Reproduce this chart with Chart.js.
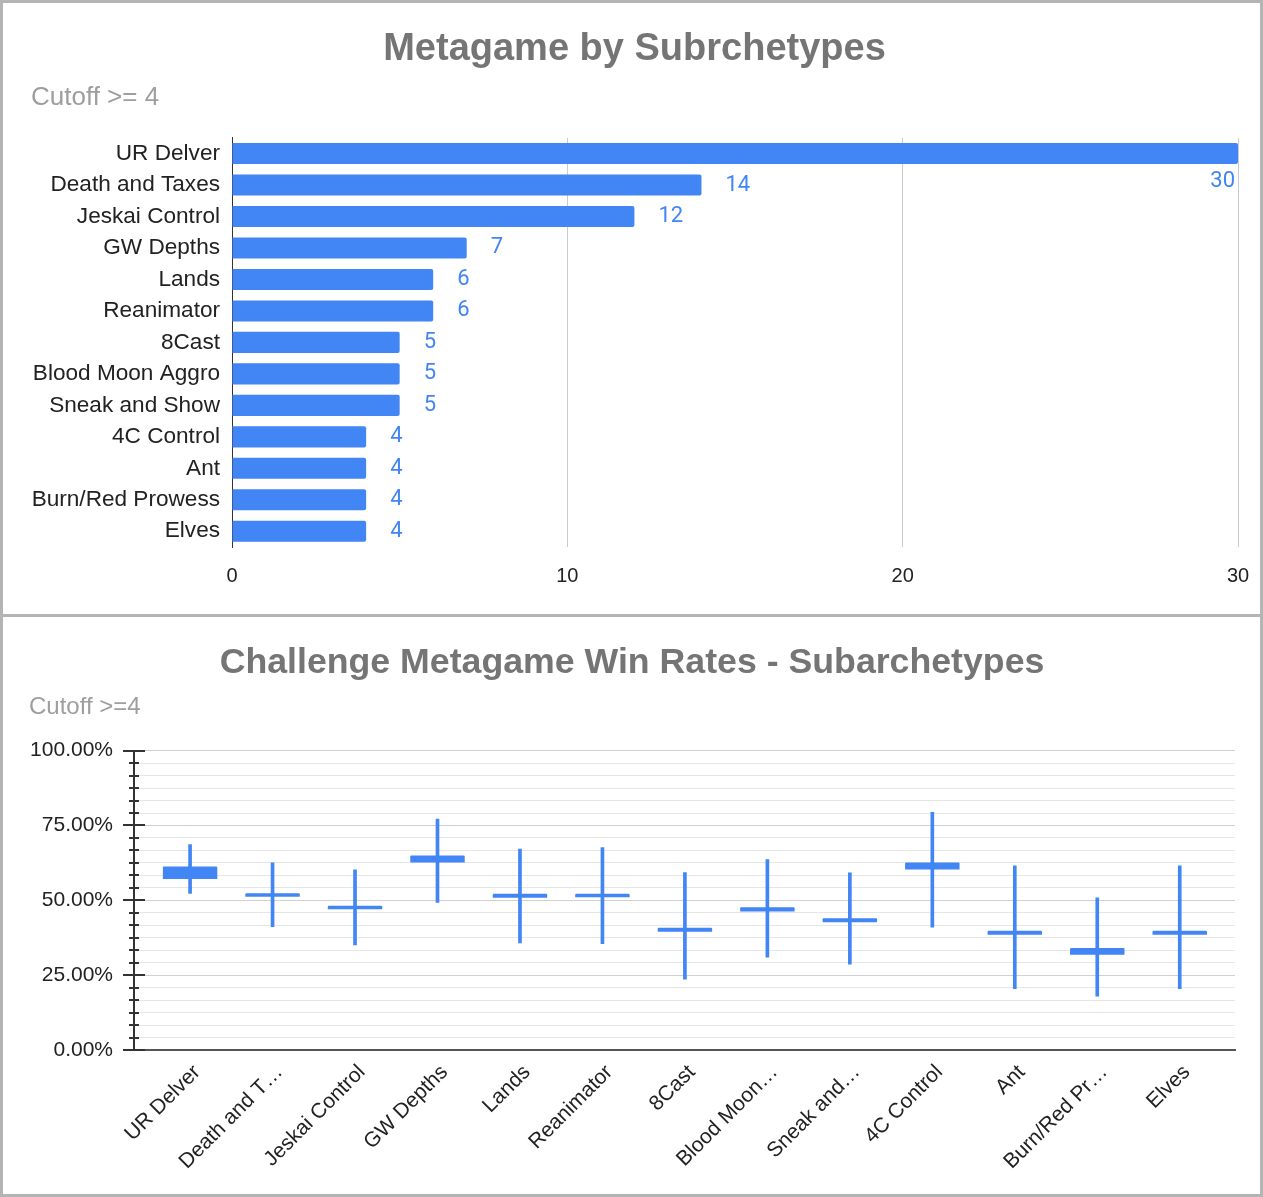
<!DOCTYPE html>
<html>
<head>
<meta charset="utf-8">
<title>Metagame by Subrchetypes</title>
<script src="https://cdn.jsdelivr.net/npm/chart.js@4.4.1/dist/chart.umd.min.js"></script>
<style>
    html, body { margin: 0; padding: 0; background: #fff; }
    #frame { width: 1263px; height: 1197px; box-sizing: border-box; border: 3px solid #b4b4b4; }
    #topPanel { height: 611px; position: relative; }
    #divider { height: 3px; background: #b4b4b4; }
    #bottomPanel { height: 577px; position: relative; }
</style>
</head>
<body>
<div id="frame">
    <div id="topPanel"><canvas id="countChart"></canvas></div>
    <div id="divider"></div>
    <div id="bottomPanel"><canvas id="rateChart"></canvas></div>
</div>
<script>
// Deck counts per subarchetype
const archetypes = ['UR Delver', 'Death and Taxes', 'Jeskai Control', 'GW Depths', 'Lands', 'Reanimator',
    '8Cast', 'Blood Moon Aggro', 'Sneak and Show', '4C Control', 'Ant', 'Burn/Red Prowess', 'Elves'];
const deckCounts = [30, 14, 12, 7, 6, 6, 5, 5, 5, 4, 4, 4, 4];
const countTicks = [0, 10, 20, 30];

// Win rates (candles): low, high and the box edges
const rateLabels = ['UR Delver', 'Death and T\u2026', 'Jeskai Control', 'GW Depths', 'Lands', 'Reanimator',
    '8Cast', 'Blood Moon\u2026', 'Sneak and\u2026', '4C Control', 'Ant', 'Burn/Red Pr\u2026', 'Elves'];
const rateLow = [52.3, 41.2, 35.1, 49.3, 35.8, 35.5, 23.7, 31.0, 28.7, 41.0, 20.5, 18.0, 20.5];
const rateHigh = [68.6, 62.5, 60.2, 77.1, 67.1, 67.6, 59.3, 63.6, 59.2, 79.4, 61.5, 50.8, 61.5];
const rateOpen = [61.3, 52.4, 48.2, 65.0, 52.2, 52.2, 40.8, 47.7, 44.0, 62.6, 39.8, 34.1, 39.8];
const rateClose = [57.1, 51.2, 47.0, 62.6, 50.9, 51.0, 39.5, 46.3, 42.7, 60.3, 38.5, 31.8, 38.5];
const rateTicks = [0, 25, 50, 75, 100];
const minorPerMajor = 6;

const blue = '#4285f4';
Chart.defaults.font.family = "'Liberation Sans', Arial, sans-serif";
Chart.defaults.color = '#222';

// value labels next to the bars; if it does not fit, tuck it under the bar end
const valueLabels = {
    id: 'valueLabels',
    afterDatasetsDraw(chart) {
        const ctx = chart.ctx;
        const area = chart.chartArea;
        ctx.save();
        ctx.font = "22px Roboto, 'Liberation Sans', sans-serif";
        ctx.fillStyle = blue;
        ctx.textBaseline = 'middle';
        chart.getDatasetMeta(0).data.forEach((bar, i) => {
            const text = String(deckCounts[i]);
            const w = ctx.measureText(text).width;
            if (bar.x + 24 + w <= area.right) {
                ctx.textAlign = 'left';
                ctx.fillText(text, bar.x + 24, bar.y);
            } else {
                ctx.textAlign = 'right';
                ctx.fillText(text, bar.x - 3, bar.y + 28);
            }
        });
        ctx.restore();
    }
};

function isMajor(v) {
    return rateTicks.some(t => Math.abs(t - v) < 1e-6);
}

// tick marks crossing the y axis line
const axisTicks = {
    id: 'axisTicks',
    afterDraw(chart) {
        const ctx = chart.ctx;
        const y = chart.scales.y;
        const x0 = y.right;
        ctx.save();
        ctx.strokeStyle = '#333';
        ctx.lineWidth = 2;
        y.ticks.forEach(t => {
            const py = Math.round(y.getPixelForValue(t.value));
            const half = isMajor(t.value) ? 11 : 5;
            ctx.beginPath();
            ctx.moveTo(x0 - half, py);
            ctx.lineTo(x0 + half, py);
            ctx.stroke();
        });
        ctx.restore();
    }
};

new Chart(document.getElementById('countChart'), {
    type: 'bar',
    data: {
        labels: archetypes,
        datasets: [{
            data: deckCounts,
            backgroundColor: blue,
            borderRadius: 2,
            borderSkipped: 'start',
            barPercentage: 0.67,
            categoryPercentage: 1
        }]
    },
    options: {
        indexAxis: 'y',
        responsive: true,
        maintainAspectRatio: false,
        animation: false,
        layout: { padding: { left: 28, right: 22, top: 0, bottom: 0 } },
        scales: {
            x: {
                min: 0,
                max: 30,
                afterBuildTicks: s => { s.ticks = countTicks.map(v => ({ value: v })); },
                grid: {
                    color: c => (c.tick && c.tick.value === 0) ? 'rgba(0,0,0,0)' : '#cccccc',
                    drawTicks: true,
                    tickLength: 14,
                    tickColor: 'rgba(0,0,0,0)'
                },
                border: { display: false },
                ticks: { padding: 3, font: { size: 20 }, color: '#222' },
                afterFit: s => { s.height = 67; }
            },
            y: {
                grid: { display: false, drawTicks: false },
                border: { display: true, color: '#333', width: 1 },
                ticks: { padding: 12, font: { size: 22.6 }, color: '#222', autoSkip: false },
                afterFit: s => { s.width = 201; }
            }
        },
        plugins: {
            legend: { display: false },
            tooltip: { enabled: false },
            title: {
                display: true,
                text: 'Metagame by Subrchetypes',
                color: '#757575',
                font: { size: 38, weight: 'bold' },
                padding: { top: 24, bottom: 0 }
            },
            subtitle: {
                display: true,
                text: 'Cutoff >= 4',
                align: 'start',
                color: '#9e9e9e',
                font: { size: 26 },
                padding: { top: 10, bottom: 24 }
            }
        }
    },
    plugins: [valueLabels]
});

new Chart(document.getElementById('rateChart'), {
    type: 'bar',
    data: {
        datasets: [{
            label: 'Range',
            data: rateLow.map((lo, i) => ({ x: i, y: [lo, rateHigh[i]] })),
            backgroundColor: blue,
            barThickness: 3,
            grouped: false
        }, {
            label: 'Body',
            data: rateOpen.map((o, i) => ({ x: i, y: [rateClose[i], o] })),
            backgroundColor: blue,
            barPercentage: 0.66,
            categoryPercentage: 1,
            borderRadius: 1,
            grouped: false
        }]
    },
    options: {
        responsive: true,
        maintainAspectRatio: false,
        animation: false,
        layout: { padding: { left: 26, right: 25, top: 0, bottom: 0 } },
        scales: {
            x: {
                type: 'linear',
                min: -0.68,
                max: 12.67,
                offset: false,
                afterBuildTicks: s => { s.ticks = rateLabels.map((_, i) => ({ value: i })); },
                grid: { display: false, drawTicks: false, offset: false },
                border: { display: true, color: '#555', width: 2 },
                ticks: {
                    callback: v => rateLabels[v],
                    autoSkip: false,
                    minRotation: 45,
                    maxRotation: 45,
                    padding: 10,
                    labelOffset: 7,
                    font: { size: 21 },
                    color: '#222'
                },
                afterFit: s => { s.height = 144; }
            },
            y: {
                min: 0,
                max: 100,
                afterBuildTicks: s => {
                    const step = (rateTicks[1] - rateTicks[0]) / minorPerMajor;
                    const n = (rateTicks.length - 1) * minorPerMajor;
                    s.ticks = Array.from({ length: n + 1 }, (_, i) => ({ value: i * step }));
                },
                grid: {
                    color: c => isMajor(c.tick.value) ? '#d0d0d0' : '#e6e6e6',
                    drawTicks: false
                },
                border: { display: true, color: '#333', width: 2 },
                ticks: {
                    callback: v => isMajor(v) ? v.toFixed(2) + '%' : '',
                    autoSkip: false,
                    padding: 21,
                    font: { size: 21 },
                    color: '#222'
                },
                afterFit: s => { s.width = 105; }
            }
        },
        plugins: {
            legend: { display: false },
            tooltip: { enabled: false },
            title: {
                display: true,
                text: 'Challenge Metagame Win Rates - Subarchetypes',
                color: '#757575',
                font: { size: 35.7, weight: 'bold' },
                padding: { top: 25, bottom: 0 }
            },
            subtitle: {
                display: true,
                text: 'Cutoff >=4',
                align: 'start',
                color: '#9e9e9e',
                font: { size: 24 },
                padding: { top: 8, bottom: 29 }
            }
        }
    },
    plugins: [axisTicks]
});
</script>
</body>
</html>
